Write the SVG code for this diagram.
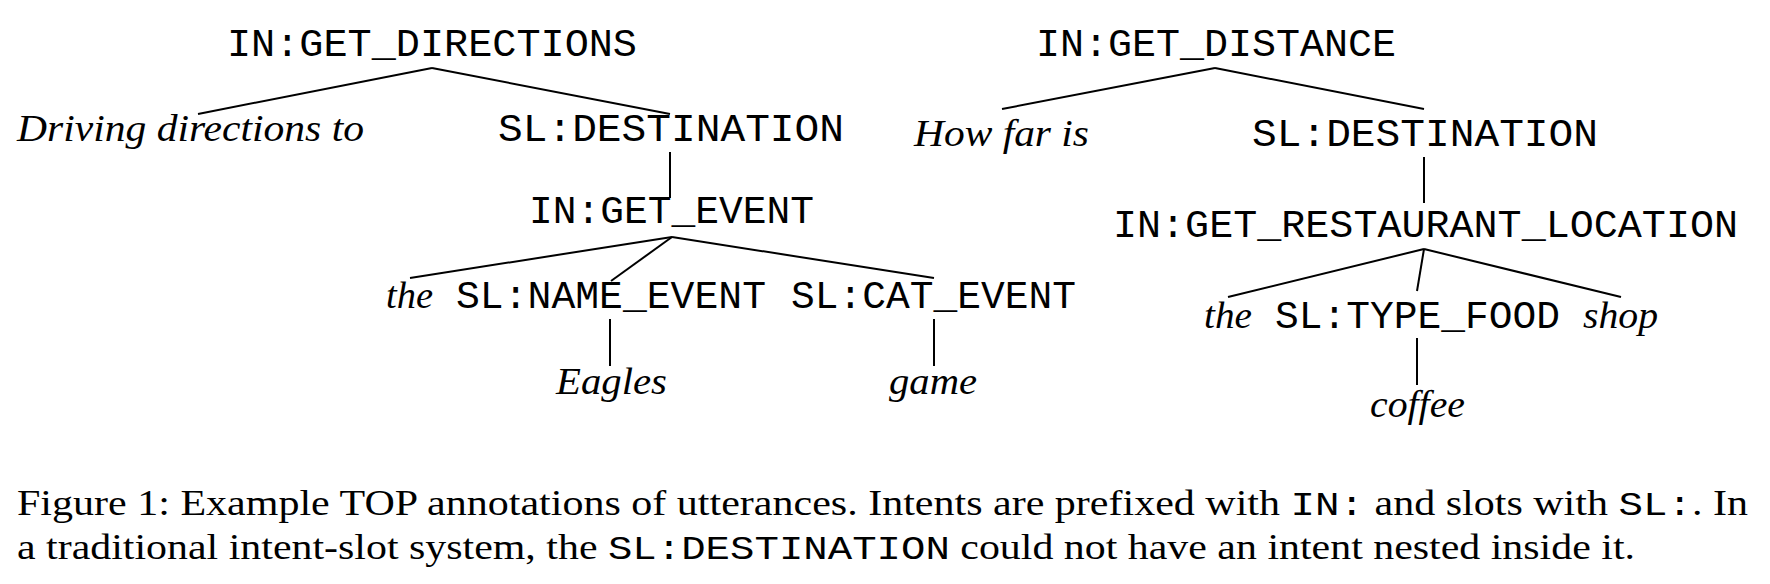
<svg xmlns="http://www.w3.org/2000/svg" width="1770" height="584" viewBox="0 0 1770 584">
<style>
.m{font-family:"Liberation Mono","Courier New",monospace;font-size:38px;fill:#000}
.i{font-family:"Liberation Serif","Times New Roman",serif;font-style:italic;font-size:38px;fill:#000}
.c{font-family:"Liberation Serif","Times New Roman",serif;font-size:35px;fill:#000}
.cm{font-family:"Liberation Mono","Courier New",monospace;font-size:34px}
line{stroke:#000;stroke-width:2}
</style>
<rect width="1770" height="584" fill="#fff"/>
<g id="connectors">
<line x1="432" y1="68" x2="198" y2="114"/>
<line x1="432" y1="68" x2="670" y2="114"/>
<line x1="670" y1="152" x2="670" y2="198"/>
<line x1="672" y1="237" x2="410" y2="278"/>
<line x1="672" y1="237" x2="611" y2="281"/>
<line x1="672" y1="237" x2="934" y2="278"/>
<line x1="610" y1="319" x2="610" y2="366"/>
<line x1="934" y1="319" x2="934" y2="366"/>
<line x1="1215" y1="68" x2="1002" y2="109"/>
<line x1="1215" y1="68" x2="1424" y2="109"/>
<line x1="1424" y1="157" x2="1424" y2="203"/>
<line x1="1424" y1="249" x2="1228" y2="297"/>
<line x1="1424" y1="249" x2="1417" y2="291"/>
<line x1="1424" y1="249" x2="1621" y2="297"/>
<line x1="1417" y1="338" x2="1417" y2="385"/>
</g>
<g id="n1"><text class="m" x="227" y="56" textLength="410" lengthAdjust="spacingAndGlyphs">IN:GET_DIRECTIONS</text></g>
<g id="n2"><text class="i" x="17" y="141" textLength="347" lengthAdjust="spacingAndGlyphs">Driving directions to</text></g>
<g id="n3"><text class="m" x="498" y="141" textLength="346" lengthAdjust="spacingAndGlyphs">SL:DESTINATION</text></g>
<g id="n4"><text class="m" x="529" y="223" textLength="285" lengthAdjust="spacingAndGlyphs">IN:GET_EVENT</text></g>
<g id="n5"><text class="i" x="386" y="308" textLength="47" lengthAdjust="spacingAndGlyphs">the</text></g>
<g id="n6"><text class="m" x="456" y="308" textLength="310" lengthAdjust="spacingAndGlyphs">SL:NAME_EVENT</text></g>
<g id="n7"><text class="m" x="791" y="308" textLength="285" lengthAdjust="spacingAndGlyphs">SL:CAT_EVENT</text></g>
<g id="n8"><text class="i" x="556" y="394" textLength="111" lengthAdjust="spacingAndGlyphs">Eagles</text></g>
<g id="n9"><text class="i" x="889" y="394" textLength="88" lengthAdjust="spacingAndGlyphs">game</text></g>
<g id="n10"><text class="m" x="1036" y="56" textLength="360" lengthAdjust="spacingAndGlyphs">IN:GET_DISTANCE</text></g>
<g id="n11"><text class="i" x="914" y="146" textLength="175" lengthAdjust="spacingAndGlyphs">How far is</text></g>
<g id="n12"><text class="m" x="1252" y="146" textLength="346" lengthAdjust="spacingAndGlyphs">SL:DESTINATION</text></g>
<g id="n13"><text class="m" x="1113" y="237" textLength="625" lengthAdjust="spacingAndGlyphs">IN:GET_RESTAURANT_LOCATION</text></g>
<g id="n14"><text class="i" x="1204" y="328" textLength="48" lengthAdjust="spacingAndGlyphs">the</text></g>
<g id="n15"><text class="m" x="1275" y="328" textLength="285" lengthAdjust="spacingAndGlyphs">SL:TYPE_FOOD</text></g>
<g id="n16"><text class="i" x="1583" y="328" textLength="75" lengthAdjust="spacingAndGlyphs">shop</text></g>
<g id="n17"><text class="i" x="1370" y="417" textLength="95" lengthAdjust="spacingAndGlyphs">coffee</text></g>
<g id="caption">
<text class="c" x="17" y="515" textLength="1731" lengthAdjust="spacingAndGlyphs">Figure 1: Example TOP annotations of utterances. Intents are prefixed with <tspan class="cm">IN:</tspan> and slots with <tspan class="cm">SL:</tspan>. In</text>
<text class="c" x="17" y="559" textLength="1618" lengthAdjust="spacingAndGlyphs">a traditional intent-slot system, the <tspan class="cm">SL:DESTINATION</tspan> could not have an intent nested inside it.</text>
</g>
</svg>
